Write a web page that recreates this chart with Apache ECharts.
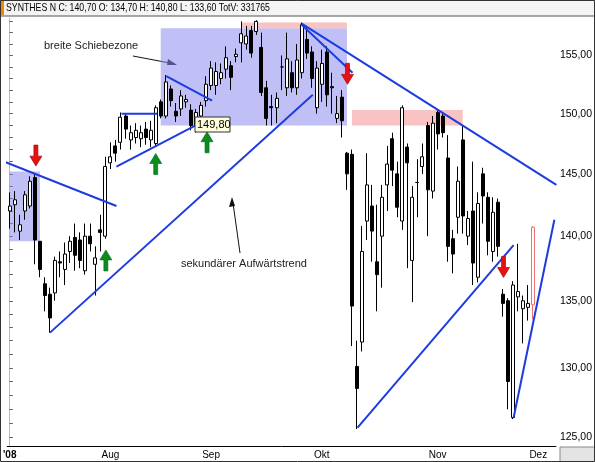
<!DOCTYPE html>
<html><head><meta charset="utf-8">
<script src="https://cdn.jsdelivr.net/npm/echarts@6/dist/echarts.min.js"></script>
<style>html,body{margin:0;padding:0;background:#fff}#c{width:595px;height:462px}</style>
</head><body><div id="c"></div>
<script>
// OHLC per trading day (Jul 1 - Nov 28 2008)
const opens  = [142.0,142.5,140.4,142.0,142.4,144.7,139.6,136.3,135.5,135.6,138.0,137.4,138.8,139.9,139.7,137.3,140.0,137.8,140.5,140.0,
 145.9,147.3,147.6,149.8,147.8,148.0,147.9,148.7,147.8,147.5,151.0,149.8,152.1,150.2,150.4,151.0,150.3,149.0,149.8,151.1,
 152.4,152.4,153.0,153.8,154.1,154.9,156.1,156.0,157.2,157.1,155.7,152.2,150.6,150.5,154.0,152.2,153.5,152.2,153.5,156.4,155.3,150.5,
 152.5,155.3,152.3,149.6,151.4,146.7,146.6,130.1,131.9,141.2,142.4,138.0,140.0,144.1,147.9,145.0,141.2,147.2,138.1,144.3,145.6,149.0,143.6,
 150.1,149.8,146.3,139.8,141.5,147.8,140.0,142.0,136.8,145.0,143.1,138.8,142.7,135.5,135.0,126.4,135.3,134.4,134.5,134.7];
const closes = [142.4,142.9,140.9,143.3,144.4,139.7,137.4,135.4,133.7,138.1,137.9,138.6,139.6,138.5,138.1,140.0,139.4,138.3,140.3,145.6,
 146.4,146.7,149.7,148.7,148.4,148.6,148.4,148.0,148.6,150.5,149.8,152.7,151.1,149.8,151.5,151.2,149.0,150.1,150.7,152.5,
 153.9,153.6,153.5,154.8,153.1,155.1,156.9,156.7,155.2,158.0,151.8,149.6,150.5,151.3,154.0,154.7,152.2,154.6,157.7,155.2,153.0,153.9,
 154.3,151.6,152.2,150.0,149.4,145.0,134.6,128.5,138.8,144.1,140.4,137.0,143.1,145.8,145.3,142.3,150.5,145.9,143.1,144.3,146.4,143.7,149.2,
 148.3,148.4,139.2,138.6,144.4,141.6,141.4,137.9,142.6,143.2,139.6,141.9,139.2,134.8,129.0,136.2,135.7,135.0,134.8,140.7];
const lows   = [140.6,140.3,139.7,141.3,142.2,137.8,136.8,134.2,132.6,135.0,136.8,136.2,137.9,137.3,137.5,137.0,138.8,135.4,138.8,139.8,
 145.4,146.0,147.0,147.9,147.0,147.5,147.2,147.4,147.2,147.3,149.6,149.6,150.6,149.3,149.8,150.5,148.6,148.4,149.4,150.6,
 152.0,151.6,152.5,153.0,152.0,154.4,154.4,155.5,154.8,156.8,151.5,149.0,149.0,149.2,152.0,151.5,151.8,151.6,153.0,154.7,152.2,150.0,
 151.0,150.6,150.0,149.2,148.0,143.7,131.6,125.6,131.2,139.7,138.0,134.2,136.0,142.0,144.0,141.5,140.5,137.5,134.9,141.5,145.0,140.0,143.0,
 147.0,148.0,138.0,137.1,140.2,140.2,139.3,136.2,136.4,141.0,138.5,138.0,138.4,133.8,127.0,126.3,134.2,131.8,133.5,133.6];
const highs  = [143.5,143.6,141.7,143.6,144.8,145.0,139.6,136.8,136.0,138.4,138.8,139.5,140.0,141.0,140.3,141.0,141.0,139.2,141.7,146.4,
 147.6,147.8,150.1,150.0,149.0,149.2,149.0,149.3,149.4,150.7,151.2,153.3,152.4,150.9,152.0,151.6,150.8,150.4,151.0,153.2,
 154.5,154.4,154.3,155.8,154.5,155.6,158.0,157.6,157.6,158.1,157.0,152.8,151.6,151.8,155.0,157.0,154.5,156.0,157.9,157.6,155.8,154.5,
 155.5,155.8,153.5,151.5,152.0,146.8,147.0,132.0,140.8,146.7,144.1,142.5,144.1,147.3,148.4,146.0,150.7,147.5,144.0,146.2,147.5,149.3,149.8,
 150.3,150.0,148.2,140.5,145.6,149.0,142.0,146.0,143.5,145.5,143.5,143.1,143.0,135.9,135.2,136.5,139.4,135.4,136.2,140.8];
const monthTicks = {0:"'08",20:"Aug",40:"Sep",62:"Okt",85:"Nov",105:"Dez"};
const yTickLabels = [125,130,135,140,145,150,155];
const slotCount = 109;
// trend lines: [[xIndex, price],[xIndex, price]]
const trendLines = [
 [[-1.1,146.0],[21.2,142.4]],
 [[8.0,132.6],[60.2,151.6]],
 [[21.2,145.6],[37.8,149.2]],
 [[22.2,150.0],[29.3,150.0]],
 [[31.1,153.2],[40.2,151.1]],
 [[58.0,157.8],[108.6,144.1]],
 [[58.0,157.7],[68.1,153.5]],
 [[69.1,125.7],[100.1,139.3]],
 [[100.1,126.4],[108.2,141.3]]
];
const redArrows = [[5.2,146.5],[67.1,153.4],[98.1,137.6]];
const greenArrows = [[19.1,138.1],[29.0,145.8],[39.2,147.6]];
// zones: [startIdx, endIdx, topPrice, bottomPrice]
const blueZones = [[0,6,145.2,139.6],[30,67,157.4,149.0]];
const pinkZones = [[46,67,157.9,157.4],[68,90,150.3,149.0]];

const L = Math.log;
const cats = Array.from({length:slotCount},(_,i)=>'d'+i);
const candle = opens.map((o,i)=>{
  const item = {value:[L(o),L(closes[i]),L(lows[i]),L(highs[i])]};
  if(i===opens.length-1) item.itemStyle={color:'#fff',color0:'#fff',borderColor:'#f07070',borderColor0:'#f07070'};
  return item;
});
const zoneData=(z)=>z.map(a=>[{xAxis:cats[a[0]],yAxis:L(a[2])},{xAxis:cats[a[1]],yAxis:L(a[3])}]);
const ticksMinor=[];for(let v=125;v<=158;v++)ticksMinor.push(L(v));
const downPath='path://M4,0L8,0L8,10L12,10L6,19L0,10L4,10Z';
const upPath='path://M6,0L12,9L8,9L8,19L4,19L4,9L0,9Z';
const series=[{
  type:'candlestick',data:candle,barWidth:3.5,
  itemStyle:{color:'#fff',color0:'#000',borderColor:'#000',borderColor0:'#000',borderWidth:1},
  markArea:{silent:true,data:zoneData(blueZones).map(d=>{d[0].itemStyle={color:'rgba(140,140,240,0.55)'};return d;})
    .concat(zoneData(pinkZones).map(d=>{d[0].itemStyle={color:'rgba(248,170,170,0.7)'};return d;}))}
}];
trendLines.forEach(t=>series.push({type:'line',xAxisIndex:1,data:t.map(p=>[p[0],L(p[1])]),symbol:'none',clip:false,
  lineStyle:{color:'#1c3ce0',width:2},z:3,silent:true}));
series.push({type:'scatter',xAxisIndex:1,data:redArrows.map(p=>[p[0],L(p[1])]),symbol:downPath,symbolSize:[12,21],
  itemStyle:{color:'#e81010',borderColor:'#900',borderWidth:0.6,opacity:1},z:5});
series.push({type:'scatter',xAxisIndex:1,data:greenArrows.map(p=>[p[0],L(p[1])]),symbol:upPath,symbolSize:[12,21],
  itemStyle:{color:'#0d8c18',borderColor:'#063',borderWidth:0.6,opacity:1},z:5});
const chart=echarts.init(document.getElementById('c'),null,{renderer:'canvas'});
chart.setOption({
  animation:false,
  grid:{left:6,right:35,top:18,bottom:16},
  xAxis:[{type:'category',data:cats,boundaryGap:true,
    axisLine:{lineStyle:{color:'#000',width:1}},
    axisTick:{interval:(i)=>i in monthTicks && i>0,length:3,lineStyle:{color:'#444'},alignWithLabel:true},
    axisLabel:{interval:(i)=>i in monthTicks,formatter:(v,i)=>i===0?'{b|'+monthTicks[i]+'}':(monthTicks[i]||''),color:'#000',fontSize:10,
      fontFamily:'Liberation Sans',margin:4,
      rich:{b:{fontWeight:'bold',fontSize:10,fontFamily:'Liberation Sans'}}},
    splitLine:{show:false}},
   {type:'value',min:-0.5,max:slotCount-0.5,show:false}],
  yAxis:{type:'value',position:'right',min:L(124.4),max:L(158.3),scale:true,
    axisLine:{show:true,lineStyle:{color:'#e8c020',width:1}},
    axisTick:{show:true,customValues:ticksMinor,length:3,lineStyle:{color:'#555'}},
    axisLabel:{customValues:yTickLabels.map(v=>L(v)),formatter:v=>Math.exp(v).toFixed(2).replace('.',','),
      color:'#000',fontSize:10.5,fontFamily:'Liberation Sans',margin:4},
    splitLine:{show:false}},
  series:series,
  graphic:[
    {type:'rect',shape:{x:0,y:0,width:595,height:16},style:{fill:'#f4f4f4',stroke:'#555',lineWidth:1},silent:true},
    {type:'rect',shape:{x:0,y:0,width:4,height:15},style:{fill:'#f08a00'}},
    {type:'text',x:6,y:2,scaleX:0.76,style:{text:'SYNTHES N C: 140,70 O: 134,70 H: 140,80 L: 133,60 TotV: 331765',fontSize:11.5,fontFamily:'Liberation Sans',fill:'#000'}},
    {type:'rect',shape:{x:560,y:447,width:35,height:15},style:{fill:'#e4e4e4',stroke:'#888'}},
    {type:'text',left:44,top:40,style:{text:'breite Schiebezone',fontSize:11,fontFamily:'Liberation Sans',fill:'#222'}},
    {type:'line',shape:{x1:133,y1:56,x2:175,y2:64},style:{stroke:'#111',lineWidth:1}},
    {type:'polygon',shape:{points:[[177,65],[168,59],[167,65]]},style:{fill:'#111'}},
    {type:'text',left:181,top:258,style:{text:'sekundärer Aufwärtstrend',fontSize:11,fontFamily:'Liberation Sans',fill:'#222'}},
    {type:'line',shape:{x1:240,y1:253,x2:233,y2:203},style:{stroke:'#111',lineWidth:1}},
    {type:'polygon',shape:{points:[[232,197],[229,207],[235,206]]},style:{fill:'#111'}},
    {type:'rect',shape:{x:195,y:117,width:35,height:15},style:{fill:'#ffffdc',stroke:'#333',lineWidth:1},z:10},
    {type:'text',left:197,top:119,style:{text:'149,80',fontSize:11,fontFamily:'Liberation Sans',fill:'#000'},z:11},
    {type:'rect',shape:{x:0.5,y:0.5,width:594,height:461},style:{fill:'none',stroke:'#333',lineWidth:1},silent:true}
  ]
});
</script></body></html>
